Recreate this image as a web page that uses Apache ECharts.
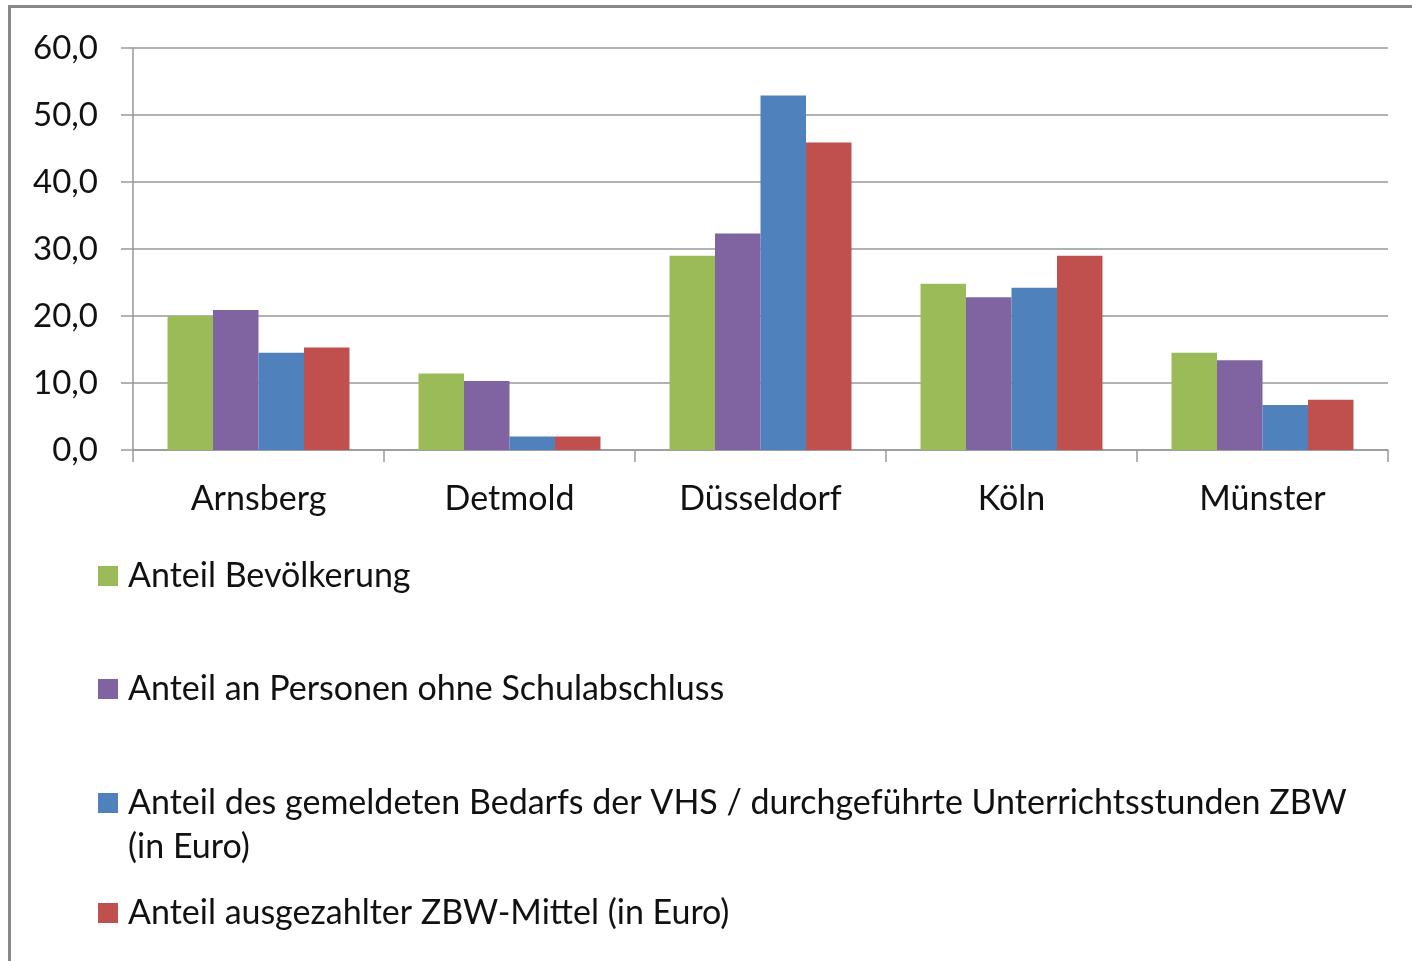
<!DOCTYPE html>
<html>
<head>
<meta charset="utf-8">
<script src="https://cdn.jsdelivr.net/npm/echarts@6/dist/echarts.min.js"></script>
<style>
  html, body { margin: 0; padding: 0; background: #fff; }
  #chart { position: absolute; left: 0; top: 0; width: 1412px; height: 961px; }
  /* grauer Rahmen oben und links */
  .frame {
    position: absolute; left: 8px; top: 5px; width: 1420px; height: 970px;
    border-left: 3px solid #888; border-top: 3px solid #888; pointer-events: none;
  }
</style>
</head>
<body>
<div id="chart"></div>
<div class="frame"></div>
<script>
// Regierungsbezirke
const categories = ["Arnsberg", "Detmold", "Düsseldorf", "Köln", "Münster"];
// Werte in Prozent
const bevoelkerung = [20.0, 11.4, 29.0, 24.8, 14.5];
const ohneAbschluss = [20.9, 10.3, 32.3, 22.8, 13.4];
const bedarfVhs = [14.5, 2.0, 52.9, 24.2, 6.7];
const zbwMittel = [15.3, 2.0, 45.9, 29.0, 7.5];

const names = [
  "Anteil Bevölkerung",
  "Anteil an Personen ohne Schulabschluss",
  "Anteil des gemeldeten Bedarfs der VHS / durchgeführte Unterrichtsstunden ZBW (in Euro)",
  "Anteil ausgezahlter ZBW-Mittel (in Euro)",
];
const colors = ["#9BBB59", "#8064A2", "#4F81BD", "#C0504D"];
const fontFamily = "Lato";

// Legenden einzeln platzieren (Mittelpunkt des Symbols)
const legendCenters = [576, 689, 803, 913];
const legends = names.map((n, i) => {
  const wrap = i === 2;
  return {
    data: [n],
    orient: "vertical",
    left: 98,
    top: wrap ? legendCenters[i] - 66 : legendCenters[i] - 22,
    padding: 0,
    itemWidth: 20,
    itemHeight: 20,
    itemGap: 0,
    icon: "rect",
    selectedMode: false,
    textStyle: { fontFamily: fontFamily, fontSize: 34, color: "#111", lineHeight: 44, padding: [0, 0, 0, 5] },
    formatter: wrap
      ? () => "\nAnteil des gemeldeten Bedarfs der VHS / durchgeführte Unterrichtsstunden ZBW\n(in Euro)"
      : "{name}",
  };
});

const seriesData = [bevoelkerung, ohneAbschluss, bedarfVhs, zbwMittel];

const option = {
  animation: false,
  color: colors,
  grid: { left: 133, right: 24, top: 48, bottom: 511, containLabel: false },
  legend: legends,
  xAxis: {
    type: "category",
    data: categories,
    axisLine: { lineStyle: { color: "#999", width: 1.5 } },
    axisTick: { show: true, length: 12, lineStyle: { color: "#999", width: 1.5 } },
    axisLabel: { fontFamily: fontFamily, fontSize: 34, color: "#111", margin: 32 },
  },
  yAxis: {
    type: "value",
    min: 0,
    max: 60,
    interval: 10,
    axisLine: { show: true, lineStyle: { color: "#999", width: 1.5 } },
    axisTick: { show: true, length: 12, lineStyle: { color: "#999", width: 1.5 } },
    splitLine: { lineStyle: { color: "#999", width: 1.5 } },
    axisLabel: {
      fontFamily: fontFamily,
      fontSize: 33,
      color: "#111",
      margin: 35,
      formatter: (v) => v.toFixed(1).replace(".", ","),
    },
  },
  series: seriesData.map((d, i) => ({
    name: names[i],
    type: "bar",
    data: d,
    barGap: "0%",
    barCategoryGap: "27.5%",
    itemStyle: { color: colors[i] },
  })),
};

const chartObj = echarts.init(document.getElementById("chart"));
chartObj.setOption(option);
</script>
</body>
</html>
